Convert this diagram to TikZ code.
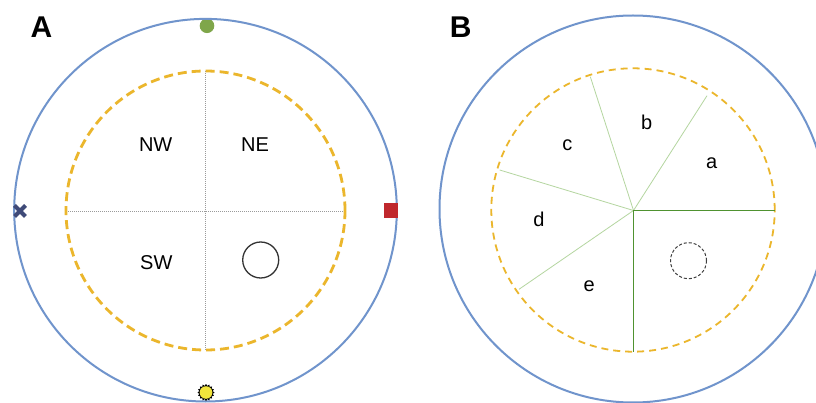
\documentclass[tikz,border=0pt]{standalone}
\usepackage{fontspec}
\setmainfont{Liberation Sans}
\definecolor{ringblue}{HTML}{7094CC}
\definecolor{ringorange}{HTML}{EBB62C}
\definecolor{darkgreen}{HTML}{4F9230}
\definecolor{lightgreen}{HTML}{B5D6A0}
\definecolor{markgreen}{HTML}{7FA64A}
\definecolor{markred}{HTML}{C0282D}
\definecolor{marknavy}{HTML}{3F4A78}
\definecolor{sunyellow}{HTML}{F2E53C}
\definecolor{gridgrey}{HTML}{9A9A9A}
\begin{document}
\begin{tikzpicture}[x=1pt,y=-1pt,
  outerring/.style={draw=ringblue, line width=2pt},
  dashringA/.style={draw=ringorange, line width=2.8pt, dash pattern=on 9pt off 5pt},
  dashringB/.style={draw=ringorange, line width=1.8pt, dash pattern=on 7pt off 5pt},
  gridline/.style={draw=gridgrey, line width=0.9pt, dash pattern=on 1pt off 1pt},
  quadlabel/.style={font=\fontsize{20}{24}\selectfont, anchor=base, inner sep=0pt},
  panellabel/.style={font=\fontsize{30}{36}\selectfont\bfseries, anchor=base, inner sep=0pt},
  sectorline/.style={draw=lightgreen, line width=0.8pt},
  axisline/.style={draw=darkgreen, line width=1.8pt},
  smallring/.style={draw=black!80, line width=1.3pt},
  smallringdash/.style={draw=black!75, line width=1pt, dash pattern=on 3pt off 2pt},
  xmark/.style={draw=marknavy, line width=4.2pt}
]
\useasboundingbox (0,0) rectangle (816,403);
\fill[white] (0,0) rectangle (816,403);

% ---------------- Panel A ----------------
\coordinate (cA) at (205.5,210.5);
\coordinate (wA) at (66,211);
\coordinate (eA) at (345,211);
\coordinate (nA) at (205.5,71);
\coordinate (sA) at (205.5,350);

\draw[gridline] (wA) -- (eA);
\draw[gridline] (nA) -- (sA);
\draw[dashringA] (cA) circle[radius=139.5pt];
\draw[smallring] (260.7,260) circle[radius=18pt];

% green marker (under ring)
\begin{scope}
  \clip (190,18.3) rectangle (225,40);
  \fill[markgreen] (207,25.8) circle[radius=7.3pt];
\end{scope}
\draw[outerring] (205.5,210.2) circle[radius=191.3pt];

% sun marker
\coordinate (sun) at (206,392.5);
\fill[black] plot[samples=65, domain=0:360, variable=\t]
  ({206+(7.6+0.9*cos(16*\t))*cos(\t)}, {392.5+(7.6+0.9*cos(16*\t))*sin(\t)}) -- cycle;
\fill[sunyellow] (sun) circle[radius=6.3pt];

% cross marker
\coordinate (xm) at (20,211);
\draw[xmark] (xm) ++(-5.5,-5.5) -- ++(11,11);
\draw[xmark] (xm) ++(-5.5,5.5) -- ++(11,-11);

% red square marker
\coordinate (sq) at (391,211);
\fill[markred] (sq) ++(-7,-7.5) rectangle ++(14,15);

\node[quadlabel] (nw) at (155.7,151.7) {NW};
\node[quadlabel] (ne) at (255,151.7) {NE};
\node[quadlabel] (sw) at (156.3,269.3) {SW};
\node[panellabel] (A) at (41.5,37.3) {A};

% ---------------- Panel B ----------------
\coordinate (cB) at (633.5,210.5);
\coordinate (bE) at (774.7,210.5);
\coordinate (bS) at (633.5,351.7);
\coordinate (bAB) at (707,95.7);
\coordinate (bBC) at (590.3,76.7);
\coordinate (bCD) at (499.7,170);
\coordinate (bDE) at (519,289.3);

\draw[outerring] (633,209) circle[radius=193.5pt];
\draw[dashringB] (633,210) circle[radius=141.7pt];

\draw[sectorline] (cB) -- (bAB);
\draw[sectorline] (cB) -- (bBC);
\draw[sectorline] (cB) -- (bCD);
\draw[sectorline] (cB) -- (bDE);
\draw[axisline] (cB) -- (bE);
\draw[axisline] (cB) -- (bS);

\draw[smallringdash] (688.5,260.7) circle[radius=18pt];

\node[quadlabel] (la) at (711.7,168.3) {a};
\node[quadlabel] (lb) at (646.7,129.3) {b};
\node[quadlabel] (lc) at (567.3,151) {c};
\node[quadlabel] (ld) at (539,226.7) {d};
\node[quadlabel] (le) at (589.3,291.7) {e};
\node[panellabel] (B) at (460.7,37.3) {B};
\end{tikzpicture}
\end{document}
